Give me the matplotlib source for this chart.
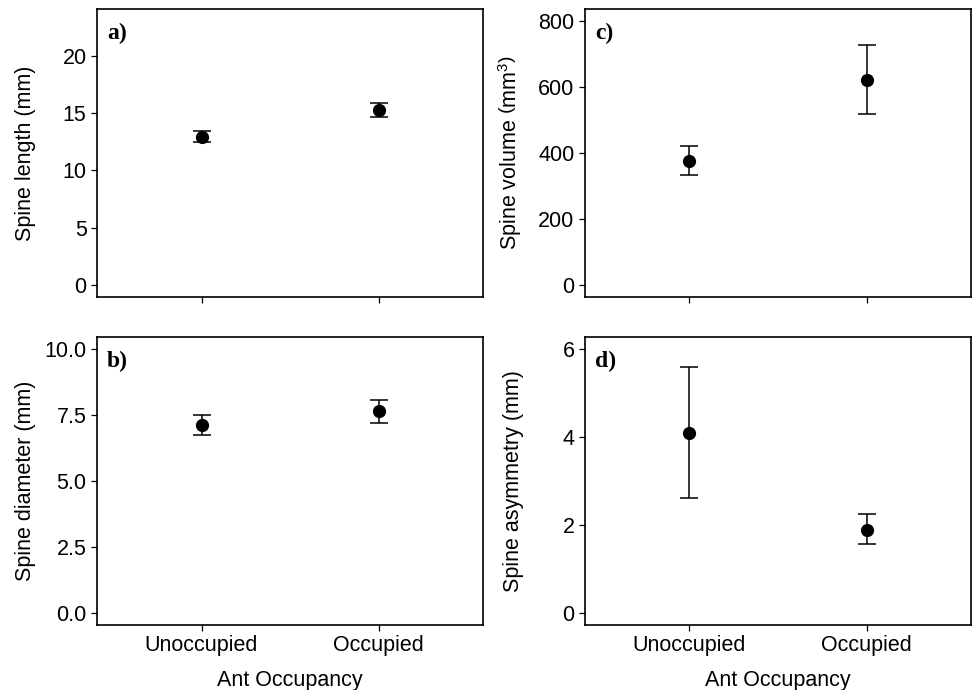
import matplotlib
matplotlib.use("Agg")
import matplotlib.pyplot as plt
from matplotlib.ticker import FormatStrFormatter

categories = ["Unoccupied", "Occupied"]

length_mean = [12.95, 15.28]
length_low = [12.44, 14.64]
length_high = [13.48, 15.87]

diameter_mean = [7.12, 7.65]
diameter_low = [6.74, 7.22]
diameter_high = [7.50, 8.08]

volume_mean = [377, 621]
volume_low = [334, 518]
volume_high = [421, 726]

asym_mean = [4.10, 1.90]
asym_low = [2.61, 1.57]
asym_high = [5.60, 2.25]

plt.rcParams["font.family"] = ["Liberation Sans", "DejaVu Sans"]
plt.rcParams["mathtext.fontset"] = "custom"
plt.rcParams["mathtext.rm"] = "Liberation Sans"
plt.rcParams["mathtext.it"] = "Liberation Sans"

FS = 15.5


def panel(fig, rect, mean, low, high, ylim, yticks, ylabel, tag, show_x):
    ax = fig.add_axes(rect)
    x = range(1, len(categories) + 1)
    yerr = [[m - l for m, l in zip(mean, low)], [h - m for m, h in zip(mean, high)]]
    ax.errorbar(x, mean, yerr=yerr, fmt="o", color="black", ms=8.5,
                capsize=6.5, elinewidth=1.1, capthick=1.1)
    ax.set_xlim(0.41, 2.59)
    ax.set_ylim(*ylim)
    ax.set_yticks(yticks)
    ax.set_xticks(list(x))
    if show_x:
        ax.set_xticklabels(categories)
        ax.set_xlabel("Ant Occupancy", fontsize=FS, labelpad=10)
    else:
        ax.set_xticklabels([])
    ax.set_ylabel(ylabel, fontsize=FS)
    ax.yaxis.set_label_coords(-0.158, 0.5)
    ax.tick_params(direction="out", length=4.5, width=0.9, labelsize=FS, pad=3)
    for s in ax.spines.values():
        s.set_linewidth(1.2)
    ax.text(0.026, 0.915, tag, transform=ax.transAxes, ha="left", va="center",
            fontsize=17, fontweight="bold", family="Liberation Serif")
    return ax


fig = plt.figure(figsize=(9.74, 6.90), dpi=100)

panel(fig, [0.0996, 0.5696, 0.3964, 0.4174], length_mean, length_low, length_high,
      (-1.05, 24.1), [0, 5, 10, 15, 20], "Spine length (mm)", "a)", False)
ax_b = panel(fig, [0.0996, 0.0942, 0.3964, 0.4170], diameter_mean, diameter_low, diameter_high,
             (-0.44, 10.45), [0, 2.5, 5, 7.5, 10], "Spine diameter (mm)", "b)", True)
panel(fig, [0.6006, 0.5696, 0.3964, 0.4174], volume_mean, volume_low, volume_high,
      (-36, 836), [0, 200, 400, 600, 800], r"Spine volume $\left(\mathrm{mm}^3\right)$", "c)", False)
panel(fig, [0.6006, 0.0942, 0.3964, 0.4170], asym_mean, asym_low, asym_high,
      (-0.27, 6.27), [0, 2, 4, 6], "Spine asymmetry (mm)", "d)", True)

ax_b.yaxis.set_major_formatter(FormatStrFormatter("%.1f"))

fig.savefig("out.png", dpi=100)
